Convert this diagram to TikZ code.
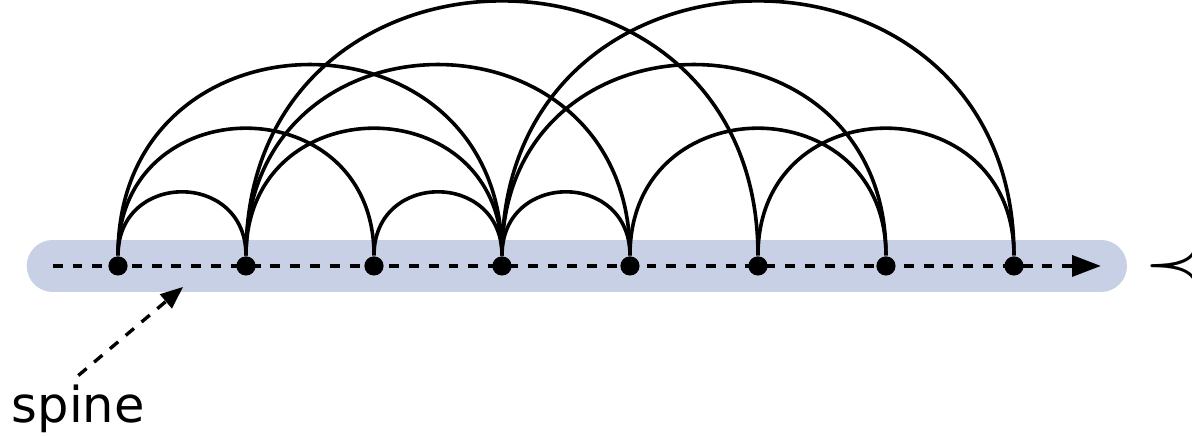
\documentclass[tikz,border=0pt]{standalone}
\usepackage{fontspec}
\setmainfont{DejaVu Sans}
\usetikzlibrary{arrows.meta,positioning}
\definecolor{bandblue}{RGB}{200,208,230}

\begin{document}
\begin{tikzpicture}[
  every node/.style={font=\fontsize{11}{13}\selectfont},
  vertex/.style={circle, fill=black, inner sep=0pt, minimum size=0.15cm},
  arcedge/.style={line width=0.8pt, out=90, in=90, looseness=1.7},
  >={Triangle[length=6.4pt,width=4.6pt]}
]

\useasboundingbox (-0.922,-1.336) rectangle (8.391,2.078);

% --- Spine ---

% Kezdő- és végpont
\coordinate (sstart) at (-0.51,0);
\coordinate (send) at (7.68,0);

% Háttérsáv
\draw[bandblue, line width=0.406cm, line cap=round] (sstart) -- (send);

% --- Csúcsok ---
\node[vertex] (v1) at (0,0) {};
\node[vertex] (v2) at (1,0) {};
\node[vertex] (v3) at (2,0) {};
\node[vertex] (v4) at (3,0) {};
\node[vertex] (v5) at (4,0) {};
\node[vertex] (v6) at (5,0) {};
\node[vertex] (v7) at (6,0) {};
\node[vertex] (v8) at (7,0) {};

% --- Ívek ---

% v1-ből
\draw[arcedge] (v1) to (v2);
\draw[arcedge] (v1) to (v3);
\draw[arcedge] (v1) to (v4);

% v2-ből
\draw[arcedge] (v2) to (v4);
\draw[arcedge] (v2) to (v5);
\draw[arcedge] (v2) to (v6);

% v3, v4-ből
\draw[arcedge] (v3) to (v4);
\draw[arcedge] (v4) to (v5);
\draw[arcedge] (v4) to (v7);
\draw[arcedge] (v4) to (v8);

% jobb oldal
\draw[arcedge] (v5) to (v7);
\draw[arcedge] (v6) to (v8);

% Szaggatott gerinc nyíllal
\draw[->, line width=0.9pt, dash pattern=on 2.2pt off 2.2pt] (sstart) -- (send);

% --- Felirat ---
\node[anchor=base, inner sep=2pt] (spinelabel) at (-0.31,-1.227) {spine};
\coordinate (spinetip) at (0.508,-0.164);
\draw[->, line width=0.75pt, dash pattern=on 2.4pt off 2.2pt,
  >={Triangle[length=5pt,width=4pt]}] (spinelabel.north) -- (spinetip);

% Rendezés jele a jobb szélen
\node[anchor=west, inner sep=0pt, font=\fontsize{17}{19}\selectfont] (prec) at (8.01,0) {$\prec$};

\end{tikzpicture}
\end{document}
